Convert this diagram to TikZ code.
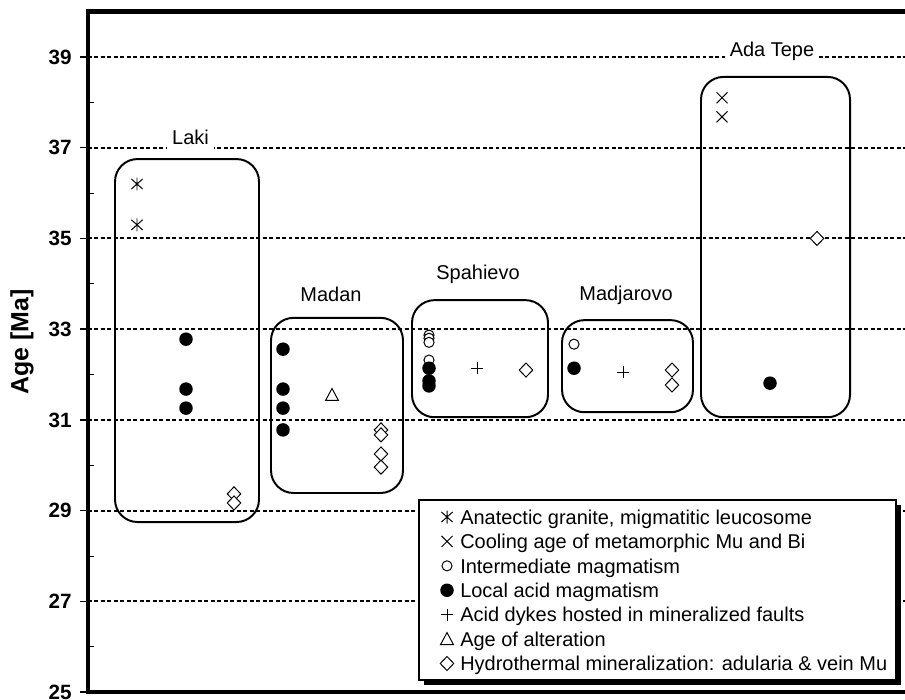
\documentclass[tikz,border=0pt]{standalone}
\usepackage{fontspec}
\setmainfont{Liberation Sans}
\usetikzlibrary{positioning}
\tikzstyle{grid} = [line width=1.4pt, dash pattern=on 2.8pt off 1.8pt]
\tikzstyle{frame} = [line width=3pt]
\tikzstyle{group} = [line width=1.4pt, rounded corners=16pt]
\tikzstyle{site} = [fill=white, inner xsep=3.6pt, inner ysep=5.5pt, anchor=base]
\tikzstyle{ticklabel} = [anchor=east, inner sep=0pt, font=\fontsize{14.7}{17}\selectfont\bfseries]
\tikzstyle{legtext} = [anchor=base west, inner sep=0pt]
\tikzstyle{mk} = [line width=0.7pt]
\tikzset{
  ast/.pic={\draw[mk] (0,-4.6pt) -- (0,4.6pt) (-4pt,-3.6pt) -- (4pt,3.6pt) (-4pt,3.6pt) -- (4pt,-3.6pt);},
  crs/.pic={\draw[mk] (-3.9pt,-3.9pt) -- (3.9pt,3.9pt) (-3.9pt,3.9pt) -- (3.9pt,-3.9pt);},
  opn/.pic={\draw[mk, fill=white] (0,0) circle (3.6pt);},
  dot/.pic={\fill (0,0) circle (4.8pt);},
  pls/.pic={\draw[mk] (-4.3pt,0) -- (4.3pt,0) (0,-4.3pt) -- (0,4.3pt);},
  tri/.pic={\draw[mk, fill=white] (-4.6pt,-3.9pt) -- (4.6pt,-3.9pt) -- (0,4.6pt) -- cycle;},
  dia/.pic={\draw[mk, fill=white] (0,5pt) -- (4.8pt,0) -- (0,-5pt) -- (-4.8pt,0) -- cycle;}
}
\begin{document}
\begin{tikzpicture}[x=0.025cm, y=1.134cm, every node/.style={font=\fontsize{14.2}{17}\selectfont}]
        \useasboundingbox (0,24.846) rectangle (905,40.256);
        % grid, ticks and frame
        \foreach \y in {27,29,...,39} \draw[grid] (88,\y) -- (905,\y);
        \foreach \y in {25,27,...,39} {
          \draw[line width=1pt] (80,\y) -- (88,\y);
          \node (tick\y) [ticklabel] at (72,\y) {\y};
        }
        \foreach \y in {26,28,...,38} \draw[line width=0.7pt] (88,\y) -- (94,\y);
        \draw[frame] (905,40) -- (88,40) -- (88,25) -- (905,25);
        \node (ylabel) [rotate=90, font=\fontsize{17.7}{20}\selectfont\bfseries] at (22,32.72) {Age [Ma]};
        % localities
        \draw[group] (115,28.75) rectangle (259,36.75);
        \draw[group] (271,29.39) rectangle (403,33.25);
        \draw[group] (412,31.06) rectangle (548,33.64);
        \draw[group] (562,31.17) rectangle (693,33.20);
        \draw[group] (701,31.06) rectangle (850,38.56);
        \node (laki) [site] at (190.5,37.08) {Laki};
        \node (madan) [site] at (331,33.62) {Madan};
        \node (spahievo) [site] at (478,34.10) {Spahievo};
        \node (madjarovo) [site] at (626,33.64) {Madjarovo};
        \node (adatepe) [site] at (772,39.0) {Ada Tepe};
        % Laki
        \foreach \y in {36.2,35.3} \pic at (137,\y) {ast};
        \foreach \y in {32.78,31.68,31.26} \pic at (186,\y) {dot};
        \foreach \y in {29.37,29.17} \pic at (234,\y) {dia};
        % Madan
        \foreach \y in {32.56,31.68,31.26,30.78} \pic at (283,\y) {dot};
        \pic at (332,31.55) {tri};
        \foreach \y in {30.78,30.67,30.25,29.96} \pic at (381,\y) {dia};
        % Spahievo
        \foreach \y in {32.87,32.80,32.71,32.32} \pic at (429,\y) {opn};
        \foreach \y in {32.14,31.86,31.75} \pic at (429,\y) {dot};
        \pic at (477,32.14) {pls};
        \pic at (526,32.10) {dia};
        % Madjarovo
        \pic at (574,32.67) {opn};
        \pic at (574,32.14) {dot};
        \pic at (623,32.05) {pls};
        \foreach \y in {32.10,31.77} \pic at (672,\y) {dia};
        % Ada Tepe
        \foreach \y in {38.1,37.68} \pic at (722,\y) {crs};
        \pic at (817,35.0) {dia};
        \pic at (770,31.81) {dot};
        % legend
        \fill (424,25.155) rectangle (901,29.123);
        \draw[fill=white, line width=1pt] (419,25.265) rectangle (896,29.233);
        \foreach \m/\t [count=\i] in {ast/{Anatectic granite, migmatitic leucosome},
            crs/{Cooling age of metamorphic Mu and Bi}, opn/{Intermediate magmatism},
            dot/{Local acid magmatism}, pls/{Acid dykes hosted in mineralized faults},
            tri/{Age of alteration}, dia/{Hydrothermal mineralization: adularia \& vein Mu}} {
          \pic at (447,{29.398-0.538*\i}) {\m};
          \node (leg\i) [legtext] at (460,{29.239-0.538*\i}) {\t};
        }
\end{tikzpicture}
\end{document}
